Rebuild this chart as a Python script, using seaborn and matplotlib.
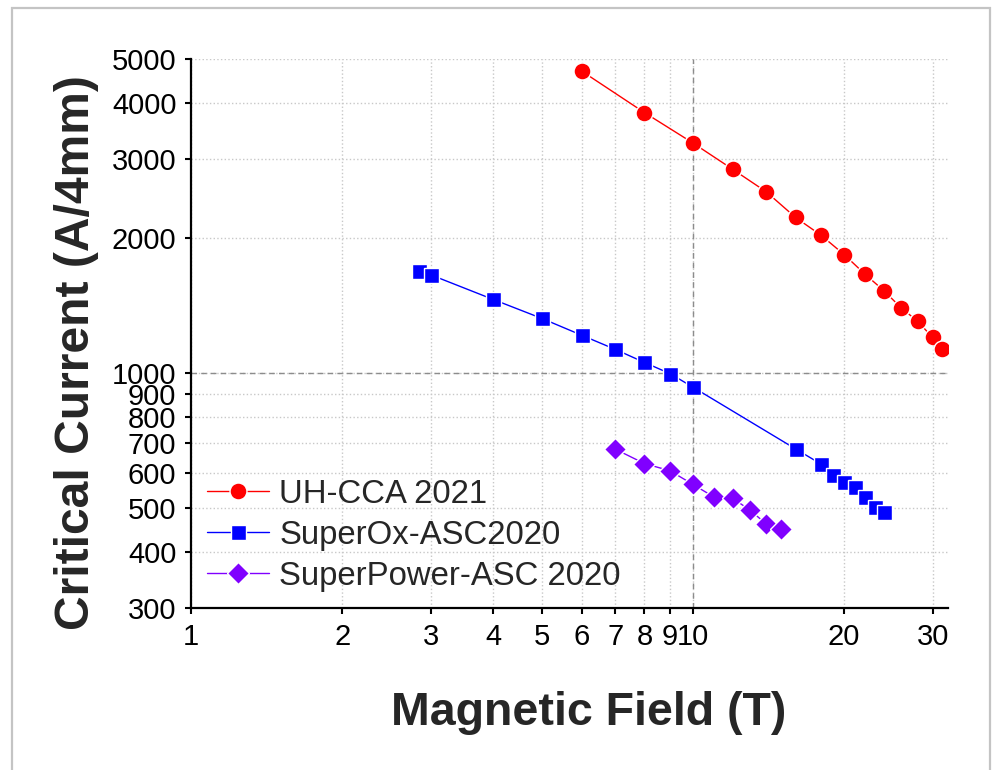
import matplotlib
matplotlib.use("Agg")
import matplotlib.pyplot as plt
from matplotlib.patches import Rectangle
import seaborn as sns
import pandas as pd

# Critical current vs. magnetic field for three REBCO tapes
uh_field = [6, 8, 10, 12, 14, 16, 18, 20, 22, 24, 26, 28, 30, 31.3]
uh_current = [4700, 3800, 3250, 2840, 2530, 2220, 2025, 1835, 1660, 1525, 1395, 1305, 1200, 1130]

sox_field = [2.85, 3, 4, 5, 6, 7, 8, 9, 10, 16, 18, 19, 20, 21, 22, 23, 24]
sox_current = [1685, 1655, 1458, 1323, 1214, 1129, 1056, 997, 930, 678, 627, 592, 572, 558, 530, 504, 491]

sp_field = [7, 8, 9, 10, 11, 12, 13, 14, 15]
sp_current = [677, 629, 606, 565, 530, 526, 495, 461, 449]

series_names = ["UH-CCA 2021", "SuperOx-ASC2020", "SuperPower-ASC 2020"]
series_colors = ["#ff0000", "#0000ff", "#8000ff"]

x_ticks = [1, 2, 3, 4, 5, 6, 7, 8, 9, 10, 20, 30]
x_tick_labels = ["1", "2", "3", "4", "5", "6", "7", "8", "9", "10", "20", "30"]
y_ticks = [300, 400, 500, 600, 700, 800, 900, 1000, 2000, 3000, 4000, 5000]
y_tick_labels = ["300", "400", "500", "600", "700", "800", "900", "1000",
                 "2000", "3000", "4000", "5000"]

sns.set_style("ticks")
plt.rcParams["font.family"] = ["Liberation Sans", "DejaVu Sans"]

fig = plt.figure(figsize=(9.94, 7.70), dpi=100)
ax = fig.add_axes([191 / 994, 162 / 770, 757 / 994, 549 / 770])

# light frame around the whole figure
fig.patches.append(Rectangle((12 / 994, -0.02), 978 / 994, 1.0148 - 4 / 770,
                             transform=fig.transFigure, fill=False,
                             edgecolor="#c4c4c4", linewidth=1.6, zorder=0))

frames = [
    pd.DataFrame({"field": uh_field, "current": uh_current}),
    pd.DataFrame({"field": sox_field, "current": sox_current}),
    pd.DataFrame({"field": sp_field, "current": sp_current}),
]
markers = ["o", "s", "D"]
msizes = [12.2, 10.8, 11]

for df, name, col, mk, ms in zip(frames, series_names, series_colors, markers, msizes):
    sns.lineplot(data=df, x="field", y="current", ax=ax, color=col, label=name,
                 marker=mk, markersize=ms, markeredgecolor="white",
                 markeredgewidth=1.0, linewidth=1.0, sort=False, zorder=3)

ax.set_xscale("log")
ax.set_yscale("log")
ax.set_xlim(1, 32.2)
ax.set_ylim(300, 5000)

ax.set_xticks(x_ticks, x_tick_labels)
ax.set_yticks(y_ticks, y_tick_labels)
ax.minorticks_off()

ax.grid(True, which="major", color="#c8c8c8", linestyle=":", linewidth=1.0, zorder=0)
ax.axvline(10, color="#8c8c8c", linestyle=(0, (4, 3)), linewidth=1.0, zorder=1)
ax.axhline(1000, color="#8c8c8c", linestyle=(0, (4, 3)), linewidth=1.0, zorder=1)

for side in ["top", "right"]:
    ax.spines[side].set_visible(False)
for side in ["left", "bottom"]:
    ax.spines[side].set_linewidth(1.6)
    ax.spines[side].set_color("black")

ax.tick_params(axis="both", direction="out", length=4.5, width=1.5,
               labelsize=21, colors="black", pad=6)

ax.set_xlabel("Magnetic Field (T)", fontsize=33.5, fontweight="bold", va="center")
ax.set_ylabel("Critical Current (A/4mm)", fontsize=34.6, fontweight="bold", va="center")
ax.xaxis.set_label_coords(0.526, -0.191)
ax.yaxis.set_label_coords(-0.1506, 0.466)

leg = ax.legend(loc="upper left", bbox_to_anchor=(0.021, 0.235), frameon=False,
                fontsize=23.7, handlelength=1.9, handletextpad=0.3,
                labelspacing=0.3, borderpad=0, borderaxespad=0)

fig.savefig("out.png", dpi=100)
